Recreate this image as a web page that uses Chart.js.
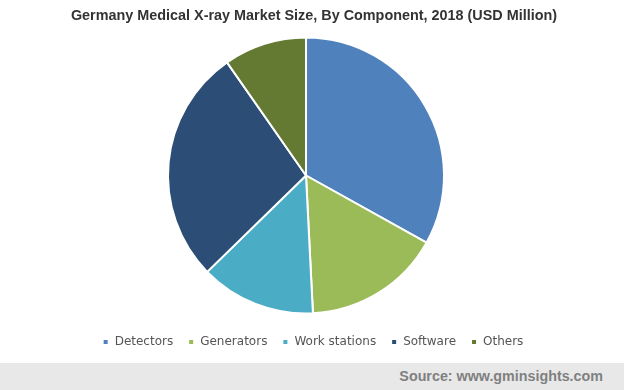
<!DOCTYPE html>
<html>
<head>
<meta charset="utf-8">
<script src="https://cdn.jsdelivr.net/npm/chart.js@4/dist/chart.umd.min.js"></script>
<style>
  html, body { margin: 0; padding: 0; background: #fff; }
  #wrap { position: relative; width: 624px; height: 390px; overflow: hidden; }
  #title {
    position: absolute; left: 0; top: 7px; width: 628px; text-align: center;
    font: bold 14.4px "Liberation Sans", Arial, sans-serif; color: #333; white-space: nowrap;
  }
  #box { position: absolute; left: 0; top: 0; width: 624px; height: 363px; }
  #footer {
    position: absolute; left: 0; top: 363px; width: 624px; height: 27px; background: #e8e8e8;
  }
  #footer span {
    position: absolute; right: 21px; top: 5px;
    font: bold 14.3px "Liberation Sans", Arial, sans-serif; color: #808080;
  }
</style>
</head>
<body>
<div id="wrap">
  <div id="box"><canvas id="pieChart"></canvas></div>
  <div id="title">Germany Medical X-ray Market Size, By Component, 2018 (USD Million)</div>
  <div id="footer"><span>Source: www.gminsights.com</span></div>
</div>
<script>
// values (share of total, %)
const components = ['Detectors', 'Generators', 'Work stations', 'Software', 'Others'];
const marketSize = [33.1, 16.1, 13.5, 27.6, 9.7];
const sliceColors = ['#4f81bd', '#9bbb59', '#4bacc6', '#2c4d75', '#647a32'];

// legend is centred a bit right of the pie in the original
const shiftLegend = {
    id: 'shiftLegend',
    afterLayout(chart) {
        if (chart.legend) {
            chart.legend.left += 7;
            chart.legend.right += 7;
        }
    }
};

const ctx = document.getElementById('pieChart').getContext('2d');
new Chart(ctx, {
    type: 'pie',
    data: {
        labels: components,
        datasets: [{
            data: marketSize,
            backgroundColor: sliceColors,
            borderColor: '#ffffff',
            borderWidth: 2
        }]
    },
    options: {
        responsive: true,
        maintainAspectRatio: false,
        animation: false,
        radius: 138,
        layout: {
            padding: { top: 30, bottom: 5, left: 0, right: 12 }
        },
        plugins: {
            title: { display: false },
            tooltip: { enabled: false },
            legend: {
                position: 'bottom',
                labels: {
                    boxWidth: 6,
                    boxHeight: 6,
                    padding: 15,
                    color: '#555',
                    font: { family: 'DejaVu Sans', size: 12 }
                }
            }
        }
    },
    plugins: [shiftLegend]
});
</script>
</body>
</html>
